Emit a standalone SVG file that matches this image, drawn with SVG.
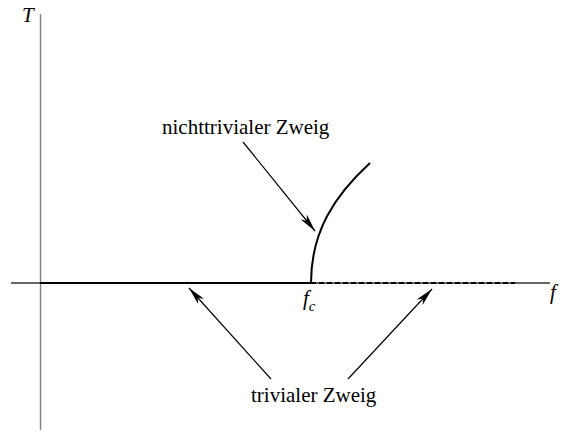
<svg xmlns="http://www.w3.org/2000/svg" width="562" height="432" viewBox="0 0 562 432">
<style>
.lbl{font-family:"Liberation Serif","Times New Roman",serif;font-size:21px;fill:#000}
.it{font-style:italic}
.ax{stroke:#7f7f7f;stroke-width:1.4;fill:none}
.br{stroke:#000;stroke-width:2;fill:none}
.ar{stroke:#000;stroke-width:1.2;fill:none}
</style>
<defs>
<marker id="ah" viewBox="0 0 18 8" refX="18" refY="4" markerWidth="18" markerHeight="8" markerUnits="userSpaceOnUse" orient="auto">
<path d="M0,0 L18,4 L0,8 L5,4 Z" fill="#000"/>
</marker>
</defs>
<rect width="562" height="432" fill="#fff"/>
<g id="axes">
<line class="ax" x1="40.5" y1="14" x2="40.5" y2="430"/>
<line x1="11" y1="283" x2="550" y2="283" stroke="#333" stroke-width="1.4"/>
<text class="lbl it" x="22" y="22">T</text>
<text class="lbl it" x="550" y="299">f</text>
</g>
<g id="branches">
<line class="br" x1="40" y1="283" x2="311" y2="283"/>
<line class="br" x1="311" y1="283" x2="515" y2="283" stroke-dasharray="5,3"/>
<path class="br" d="M311,283 C311,232 334,196 370,163"/>
<text class="lbl it" x="303" y="305">f<tspan font-size="15" dy="6">c</tspan></text>
</g>
<g id="connectors">
<line class="ar" x1="243" y1="142" x2="315" y2="231" marker-end="url(#ah)"/>
<line class="ar" x1="271" y1="379" x2="189" y2="288" marker-end="url(#ah)"/>
<line class="ar" x1="348" y1="379" x2="432" y2="289" marker-end="url(#ah)"/>
</g>
<g id="label-nontrivial">
<text class="lbl" x="162" y="134">nichttrivialer Zweig</text>
</g>
<g id="label-trivial">
<text class="lbl" x="251" y="402">trivialer Zweig</text>
</g>
</svg>
